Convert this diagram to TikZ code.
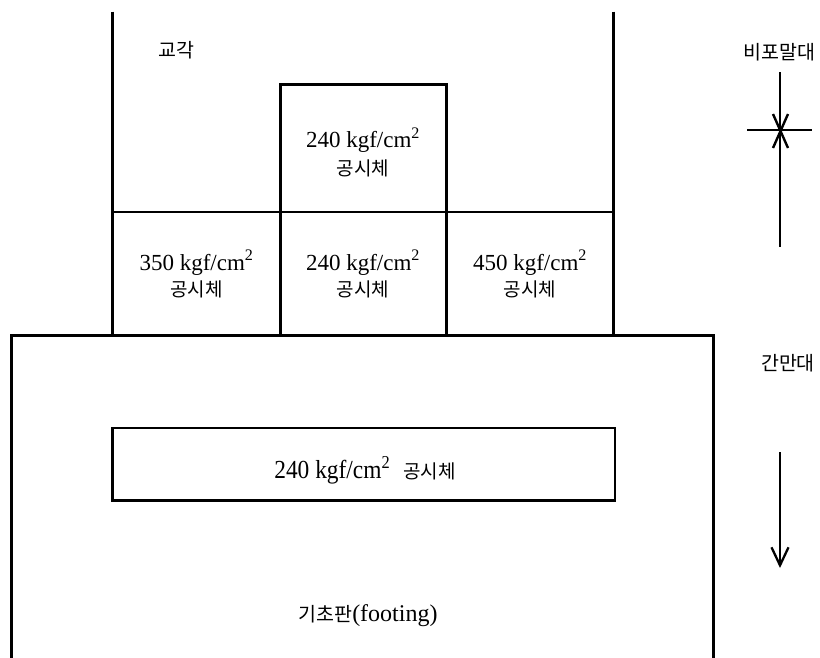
\documentclass[tikz,border=0pt]{standalone}
\usepackage{fontspec}
\setmainfont{Liberation Serif}
\newfontfamily\kr{Noto Sans CJK KR}
\usetikzlibrary{arrows.meta}
\tikzset{
  wall/.style={line width=3.2pt},
  edge/.style={line width=2.3pt},
  numtxt/.style={font=\fontsize{23}{26}\selectfont, inner sep=0pt, anchor=base},
  krtxt/.style={font=\kr\fontsize{19}{22}\selectfont, inner sep=0pt, anchor=base},
  sidetxt/.style={font=\kr\fontsize{19.5}{22}\selectfont, inner sep=0pt},
}
\begin{document}
\begin{tikzpicture}[x=1pt,y=-1pt]
\useasboundingbox (0,0) rectangle (820,657);

% pier walls
\coordinate (plt) at (112.7,11.7);
\coordinate (plb) at (112.7,335.7);
\coordinate (prt) at (613.5,11.7);
\coordinate (prb) at (613.5,335.7);
\draw[wall] (plt) -- (plb);
\draw[wall] (prt) -- (prb);

% specimen boxes in the pier
\draw[edge] (280.5,211.7) -- (280.5,84.5) -- (446.5,84.5) -- (446.5,211.7);
\draw[edge] (112.7,211.7) -- (613.5,211.7);
\draw[edge] (280.5,211.7) -- (280.5,335.7);
\draw[edge] (446.5,211.7) -- (446.5,335.7);

% footing
\draw[wall] (11.7,660) -- (11.7,335.7) -- (713.5,335.7) -- (713.5,660);

% specimen in footing
\draw[edge] (112.5,428) rectangle (615,500.5);

% texts
\node[sidetxt] (gyogak) at (176,50) {교각};

\node[numtxt] (t1) at (363,147.6) {240 kgf/cm\textsuperscript{2}};
\node[krtxt] (k1) at (363,175.5) {공시체};

\node[numtxt] (t2) at (196.5,270) {350 kgf/cm\textsuperscript{2}};
\node[krtxt] (k2) at (196.5,296.5) {공시체};
\node[numtxt] (t3) at (363,270) {240 kgf/cm\textsuperscript{2}};
\node[krtxt] (k3) at (363,296.5) {공시체};
\node[numtxt] (t4) at (530,270) {450 kgf/cm\textsuperscript{2}};
\node[krtxt] (k4) at (530,296.5) {공시체};

\node[inner sep=0pt, anchor=base] (t5) at (365,478)
  {\scalebox{0.9}[1]{\fontsize{26}{28}\selectfont 240 kgf/cm\textsuperscript{2}}\hspace{13pt}{\kr\fontsize{19}{22}\selectfont 공시체}};

\node[inner sep=0pt, anchor=base] (foot) at (368,621)
  {{\kr\fontsize{19.5}{22}\selectfont 기초판}{\fontsize{24}{26}\selectfont(footing)}};

% right side
\node[sidetxt] (bipo) at (779.5,52) {비포말대};
\node[sidetxt] (ganman) at (788,363) {간만대};

\coordinate (v1) at (780,72);
\coordinate (v2) at (780,247);
\draw[edge] (v1) -- (v2);
\coordinate (h1) at (747,130);
\coordinate (h2) at (812,130);
\draw[line width=1.6pt] (h1) -- (h2);
\coordinate (d1) at (773,114);
\coordinate (d2) at (788,148);
\coordinate (d3) at (788,114);
\coordinate (d4) at (773,148);
\draw[line width=2.4pt] (d1) -- (d2);
\draw[line width=2.4pt] (d3) -- (d4);

\coordinate (a1) at (780,452);
\coordinate (a2) at (780,568);
\draw[edge, -{Straight Barb[length=18pt,width=17pt]}] (a1) -- (a2);
\end{tikzpicture}
\end{document}
